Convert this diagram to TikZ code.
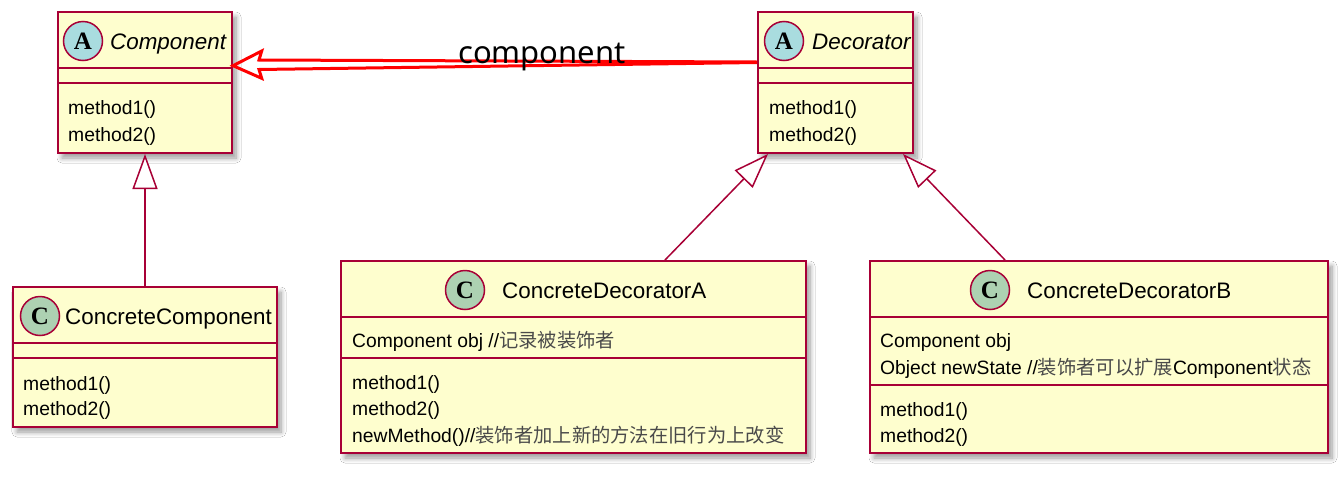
\documentclass[tikz,border=0pt]{standalone}
\usepackage{fontspec}
\setmainfont{Liberation Sans}
\newfontfamily\cjk{Noto Sans CJK SC}
\newfontfamily\notosans{Noto Sans}
\newfontfamily\spotfont{Liberation Serif}
\usetikzlibrary{arrows.meta,shadows.blur,calc}
\definecolor{umlborder}{HTML}{A80036}
\definecolor{umlfill}{HTML}{FEFECE}
\definecolor{spotA}{HTML}{A9DCDF}
\definecolor{spotC}{HTML}{ADD1B2}
\definecolor{cjkgray}{HTML}{4A4A4A}
\newcommand{\zh}[1]{{\cjk\color{cjkgray}#1}}
\tikzset{
  cls/.style={draw=umlborder, fill=umlfill, line width=2pt, inner sep=0pt, anchor=north west,
    blur shadow={shadow xshift=4pt, shadow yshift=-5pt, shadow blur steps=8, shadow blur radius=5pt, shadow opacity=40}},
  sep/.style={draw=umlborder, line width=1.6pt},
  spot/.style={circle, draw=umlborder, line width=1.5pt, minimum size=39pt, inner sep=0pt,
    font=\spotfont\bfseries\fontsize{25}{25}\selectfont},
  hdr/.style={anchor=west, inner sep=0pt, text height=19pt, text depth=3pt, font=\fontsize{22.4}{24}\selectfont},
  mem/.style={anchor=west, inner sep=0pt, text height=17pt, text depth=2pt, font=\fontsize{19.3}{22}\selectfont},
  inh/.style={draw=umlborder, line width=1.5pt, -{Triangle[length=35pt,width=25pt,fill=white]}},
  redarrow/.style={draw=red, line width=3pt, line join=miter},
}
\begin{document}
\begin{tikzpicture}[x=1pt,y=-1pt]
\useasboundingbox[fill=white] (0,0) rectangle (1339,477);

% class boxes
\node[cls, minimum width=174pt, minimum height=141pt] (comp) at (57,11) {};
\node[cls, minimum width=155pt, minimum height=141pt] (dec) at (757,11) {};
\node[cls, minimum width=264pt, minimum height=140pt] (ccomp) at (12,286) {};
\node[cls, minimum width=465pt, minimum height=192pt] (decA) at (340,260) {};
\node[cls, minimum width=458pt, minimum height=192pt] (decB) at (869,260) {};

% separators
\draw[sep] (comp.west |- 0,68) -- (comp.east |- 0,68);
\draw[sep] (comp.west |- 0,83) -- (comp.east |- 0,83);
\draw[sep] (dec.west |- 0,68) -- (dec.east |- 0,68);
\draw[sep] (dec.west |- 0,83) -- (dec.east |- 0,83);
\draw[sep] (ccomp.west |- 0,343) -- (ccomp.east |- 0,343);
\draw[sep] (ccomp.west |- 0,358) -- (ccomp.east |- 0,358);
\draw[sep] (decA.west |- 0,317) -- (decA.east |- 0,317);
\draw[sep] (decA.west |- 0,358) -- (decA.east |- 0,358);
\draw[sep] (decB.west |- 0,317) -- (decB.east |- 0,317);
\draw[sep] (decB.west |- 0,385) -- (decB.east |- 0,385);

% spots
\node[spot, fill=spotA] (compspot) at (83,41) {A};
\node[spot, fill=spotA] (decspot) at (784,41) {A};
\node[spot, fill=spotC] (ccompspot) at (40,316) {C};
\node[spot, fill=spotC] (decAspot) at (465,290) {C};
\node[spot, fill=spotC] (decBspot) at (990,290) {C};

% headers
\node[hdr, font=\itshape\fontsize{22.4}{24}\selectfont] (compname) at (110,41) {Component};
\node[hdr, font=\itshape\fontsize{22.4}{24}\selectfont] (decname) at (812,41) {Decorator};
\node[hdr] (ccompname) at (65,316) {ConcreteComponent};
\node[hdr] (decAname) at (502,290) {ConcreteDecoratorA};
\node[hdr] (decBname) at (1027,290) {ConcreteDecoratorB};

% members
\node[mem] (compm1) at (68,107) {method1()};
\node[mem] (compm2) at (68,134) {method2()};
\node[mem] (decm1) at (769,107) {method1()};
\node[mem] (decm2) at (769,134) {method2()};
\node[mem] (ccompm1) at (23,383) {method1()};
\node[mem] (ccompm2) at (23,408) {method2()};
\node[mem] (decAf1) at (352,340) {Component obj //\zh{记录被装饰者}};
\node[mem] (decAm1) at (352,382) {method1()};
\node[mem] (decAm2) at (352,408) {method2()};
\node[mem] (decAm3) at (352,435) {newMethod()//\zh{装饰者加上新的方法在旧行为上改变}};
\node[mem] (decBf1) at (880,340) {Component obj};
\node[mem] (decBf2) at (880,367) {Object newState //\zh{装饰者可以扩展}Component\zh{状态}};
\node[mem] (decBm1) at (880,409) {method1()};
\node[mem] (decBm2) at (880,435) {method2()};

% inheritance
\draw[inh] (ccomp.north -| 145,0) -- (comp.south -| 145,0);
\draw[inh] (decA.north -| 665,0) -- (dec.south -| 768,0);
\draw[inh] (decB.north -| 1005,0) -- (dec.south -| 903,0);

% red association arrow
\draw[redarrow] (dec.west |- 0,62) -- (259,60) -- (261.7,51) -- (comp.east |- 0,65.7)
  -- (261.7,78.3) -- (259,69.5) -- (dec.west |- 0,62.5);
\node[anchor=base west, inner sep=0pt, font=\notosans\fontsize{31}{31}\selectfont] (lbl) at (458,63.3) {component};
\end{tikzpicture}
\end{document}
